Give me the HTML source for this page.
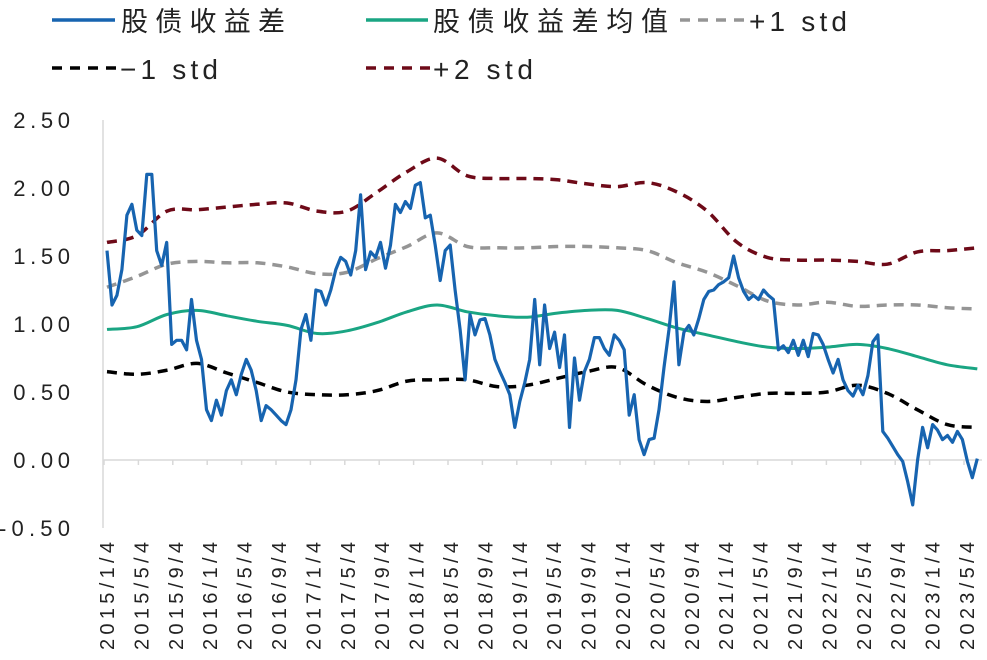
<!DOCTYPE html>
<html><head><meta charset="utf-8"><style>
body{margin:0;background:#fff;}
svg text{font-family:"Liberation Sans","Noto Sans CJK SC",sans-serif;}
</style></head><body>
<svg id="chart" width="987" height="655" viewBox="0 0 987 655" xmlns="http://www.w3.org/2000/svg">
<g id="legend">
 <g><line x1="52" y1="20" x2="115" y2="20" stroke="#1764b0" stroke-width="3.5"/><text x="121" y="31" font-size="27" fill="#222" textLength="164" lengthAdjust="spacing">股债收益差</text></g>
 <g><line x1="366" y1="20" x2="428" y2="20" stroke="#1aa583" stroke-width="3.5"/><text x="433" y="31" font-size="27" fill="#222" textLength="235" lengthAdjust="spacing">股债收益差均值</text></g>
 <g><line x1="680" y1="20" x2="747" y2="20" stroke="#959595" stroke-width="3.5" stroke-dasharray="10,8"/><text x="749" y="31" font-size="28" fill="#222" textLength="98" lengthAdjust="spacing">+1 std</text></g>
 <g><line x1="52" y1="68" x2="119" y2="68" stroke="#000" stroke-width="3.5" stroke-dasharray="10,8"/><text x="120" y="79" font-size="28" fill="#222" textLength="98" lengthAdjust="spacing">−1 std</text></g>
 <g><line x1="366" y1="68" x2="432" y2="68" stroke="#6e0a18" stroke-width="3.5" stroke-dasharray="10,8"/><text x="433" y="79" font-size="28" fill="#222" textLength="100" lengthAdjust="spacing">+2 std</text></g>
</g>
<g id="axes"></g>
<g id="series"></g>
</svg>
<script>
const yTicks=[2.5,2.0,1.5,1.0,0.5,0.0,-0.5];
const xLabels=["2015/1/4","2015/5/4","2015/9/4","2016/1/4","2016/5/4","2016/9/4","2017/1/4","2017/5/4","2017/9/4","2018/1/4","2018/5/4","2018/9/4","2019/1/4","2019/5/4","2019/9/4","2020/1/4","2020/5/4","2020/9/4","2021/1/4","2021/5/4","2021/9/4","2022/1/4","2022/5/4","2022/9/4","2023/1/4","2023/5/4"];
const spread=[1.54,1.14,1.21,1.40,1.80,1.88,1.69,1.65,2.10,2.10,1.54,1.43,1.60,0.85,0.88,0.88,0.81,1.18,0.88,0.74,0.37,0.29,0.44,0.33,0.51,0.59,0.48,0.63,0.74,0.66,0.51,0.29,0.40,0.37,0.33,0.29,0.26,0.37,0.59,0.96,1.07,0.88,1.25,1.24,1.14,1.25,1.40,1.49,1.46,1.36,1.54,1.95,1.40,1.53,1.49,1.60,1.41,1.58,1.88,1.82,1.90,1.85,2.02,2.04,1.78,1.80,1.58,1.32,1.54,1.58,1.25,0.96,0.59,1.07,0.92,1.03,1.04,0.92,0.74,0.65,0.57,0.48,0.24,0.43,0.57,0.74,1.18,0.70,1.14,0.82,0.94,0.68,0.92,0.24,0.75,0.44,0.65,0.74,0.90,0.90,0.82,0.77,0.92,0.88,0.81,0.33,0.48,0.15,0.04,0.15,0.16,0.37,0.68,0.96,1.31,0.70,0.94,0.99,0.92,1.04,1.18,1.24,1.25,1.29,1.31,1.34,1.50,1.34,1.24,1.18,1.21,1.18,1.25,1.21,1.18,0.81,0.84,0.79,0.88,0.77,0.88,0.76,0.93,0.92,0.85,0.74,0.64,0.74,0.59,0.51,0.47,0.55,0.48,0.62,0.87,0.92,0.21,0.16,0.10,0.04,-0.01,-0.16,-0.33,0.00,0.24,0.09,0.26,0.22,0.15,0.18,0.13,0.21,0.15,-0.01,-0.13,0.01];
const spreadEnd=101.2;
const meanVals=[0.96,0.98,1.07,1.10,1.06,1.02,0.99,0.93,0.95,1.01,1.09,1.14,1.09,1.06,1.05,1.08,1.10,1.10,1.04,0.97,0.92,0.87,0.83,0.82,0.83,0.85,0.82,0.76,0.70,0.67];
const plus1=[1.27,1.35,1.44,1.46,1.45,1.45,1.42,1.37,1.38,1.48,1.57,1.67,1.57,1.56,1.56,1.57,1.57,1.56,1.54,1.45,1.38,1.28,1.17,1.14,1.16,1.13,1.14,1.14,1.12,1.11];
const plus2=[1.60,1.65,1.83,1.84,1.86,1.88,1.89,1.83,1.83,1.97,2.12,2.22,2.09,2.07,2.07,2.06,2.03,2.01,2.04,1.97,1.83,1.60,1.49,1.47,1.47,1.46,1.44,1.53,1.54,1.56];
const minus1=[0.65,0.63,0.66,0.71,0.64,0.57,0.50,0.48,0.48,0.51,0.58,0.59,0.59,0.54,0.55,0.60,0.65,0.68,0.55,0.46,0.43,0.46,0.49,0.49,0.50,0.55,0.49,0.37,0.26,0.24];
const bandEnd=101.2;

const NS="http://www.w3.org/2000/svg";
const X0=107, MW=8.6;
function xS(m){return X0+m*MW;}
function yS(v){return 460-v*136;}
const axes=document.getElementById('axes'), ser=document.getElementById('series');
function mk(tag,attrs,parent){const e=document.createElementNS(NS,tag);for(const k in attrs)e.setAttribute(k,attrs[k]);parent.appendChild(e);return e;}

const yax=mk('line',{x1:103,y1:120,x2:103,y2:528,stroke:'#d9d9d9','stroke-width':1.5},axes);


yTicks.forEach(v=>{
 const s=v<0?'-'+Math.abs(v).toFixed(2):v.toFixed(2);
 const t=mk('text',{x:70,y:yS(v)+8,'text-anchor':'end','font-size':22,fill:'#222',textLength:s.length*14.2,lengthAdjust:'spacing'},axes);
 t.textContent=s;
 
 
});
const xax=mk('line',{x1:103,y1:yS(0),x2:982,y2:yS(0),stroke:'#d9d9d9','stroke-width':1.5},axes);


xLabels.forEach((lab,i)=>{
 const x=xS(i*4)-3;
 const tk=mk('line',{x1:x,y1:yS(0),x2:x,y2:yS(0)+5,stroke:'#d9d9d9','stroke-width':1.5},axes);
 
 
 const t=mk('text',{x:0,y:0,'text-anchor':'start','font-size':20,fill:'#222',textLength:lab.length*13.5,lengthAdjust:'spacing',transform:`translate(${x+10},${650}) rotate(-90)`},axes);
 t.textContent=lab;
 
 
});

function smoothPath(pts){
 let d=`M${pts[0][0]},${pts[0][1]}`;
 for(let i=0;i<pts.length-1;i++){
  const p0=pts[Math.max(0,i-1)],p1=pts[i],p2=pts[i+1],p3=pts[Math.min(pts.length-1,i+2)];
  const c1=[p1[0]+(p2[0]-p0[0])/6,p1[1]+(p2[1]-p0[1])/6],c2=[p2[0]-(p3[0]-p1[0])/6,p2[1]-(p3[1]-p1[1])/6];
  d+=`C${c1[0].toFixed(1)},${c1[1].toFixed(1)} ${c2[0].toFixed(1)},${c2[1].toFixed(1)} ${p2[0].toFixed(1)},${p2[1].toFixed(1)}`;
 }
 return d;
}
function band(vals,color,dash,name,w){
 const pts=vals.map((v,i)=>[xS(i*bandEnd/(vals.length-1)),yS(v)]);
 const p=mk('path',{d:smoothPath(pts),fill:'none',stroke:color,'stroke-width':w,'stroke-dasharray':dash||'none'},ser);
 
 
}
band(meanVals,'#1aa583',null,'mean-line',3);
band(plus1,'#959595','10,7','plus1std-line',3.5);
band(minus1,'#000','10,7','minus1std-line',3.5);
band(plus2,'#6e0a18','10,7','plus2std-line',3.5);
const sp=spread.map((v,i)=>`${i?'L':'M'}${xS(i*spreadEnd/(spread.length-1)).toFixed(1)},${yS(v).toFixed(1)}`).join('');
const sl=mk('path',{d:sp,fill:'none',stroke:'#1764b0','stroke-width':3.2,'stroke-linejoin':'round'},ser);


</script>
</body></html>
